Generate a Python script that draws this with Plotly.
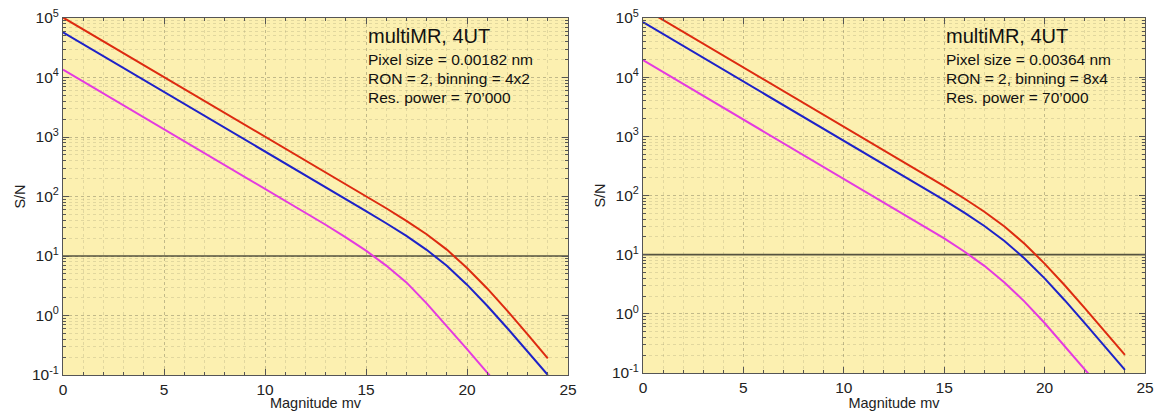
import plotly.graph_objects as go

# ---------------- data ----------------
mag = [0, 2, 4, 6, 8, 10, 11, 12, 13, 14, 15, 16, 17, 18, 19, 20, 21, 22, 23, 24]

# left panel: pixel size 0.00182 nm, binning 4x2
left_red = [1.02e5, 4.06e4, 1.62e4, 6430, 2560, 1020, 642, 406, 256, 161, 101, 63.5,
            39.0, 23.2, 12.8, 6.3, 2.85, 1.2, 0.48, 0.19]
left_blue = [5.74e4, 2.29e4, 9100, 3625, 1443, 574, 362, 229, 144, 90.7, 57.0, 35.5,
             21.8, 12.7, 6.85, 3.3, 1.46, 0.611, 0.249, 0.1]
left_magenta = [1.36e4, 5415, 2156, 858, 341, 136, 85.6, 53.7, 33.5, 20.6, 12.3, 6.9,
                3.6, 1.6, 0.67, 0.273, 0.110, 0.044, 0.0176, 0.0069]

# right panel: pixel size 0.00364 nm, binning 8x4
right_red = [1.47e5, 5.84e4, 2.32e4, 9250, 3684, 1466, 925, 583, 367, 231, 144, 88.9,
             53.1, 29.9, 15.3, 7.07, 3.04, 1.25, 0.505, 0.202]
right_blue = [8.49e4, 3.38e4, 1.345e4, 5354, 2131, 848, 535, 337, 213, 134, 83.4, 51.3,
              30.5, 17.0, 8.64, 3.97, 1.70, 0.697, 0.281, 0.1125]
right_magenta = [1.94e4, 7709, 3069, 1222, 486, 194, 122, 76.9, 48.4, 30.3, 18.8, 11.3,
                 6.47, 3.39, 1.61, 0.70, 0.29, 0.1175, 0.047, 0.0188]

threshold_x = [0, 25]
threshold_y = [10, 10]

y_exponents = [-1, 0, 1, 2, 3, 4, 5]
x_ticks = [0, 5, 10, 15, 20, 25]

series_colors = {"red": "#DD2A10", "blue": "#1E22C8", "magenta": "#E43AE0"}

left_text = ["multiMR, 4UT", "Pixel size = 0.00182 nm", "RON = 2, binning = 4x2",
             "Res. power = 70\u2019000"]
right_text = ["multiMR, 4UT", "Pixel size = 0.00364 nm", "RON = 2, binning = 8x4",
              "Res. power = 70\u2019000"]

# ---------------- figure ----------------
W, H = 1160, 411
FONT = "Liberation Sans, Arial, Helvetica, sans-serif"


def px_x(p):
    return p / W


def px_y(p):
    return 1 - p / H


fig = go.Figure()

panels = [
    ("x", "y", left_red, left_blue, left_magenta),
    ("x2", "y2", right_red, right_blue, right_magenta),
]
for xa, ya, r, b, m in panels:
    fig.add_trace(go.Scatter(x=threshold_x, y=threshold_y, mode="lines",
                             line=dict(color="#55533F", width=1.6),
                             xaxis=xa, yaxis=ya, showlegend=False, hoverinfo="skip"))
    for ys, c in ((m, "magenta"), (b, "blue"), (r, "red")):
        fig.add_trace(go.Scatter(x=mag, y=ys, mode="lines",
                                 line=dict(color=series_colors[c], width=2),
                                 xaxis=xa, yaxis=ya, showlegend=False, cliponaxis=True))

grid_major = "rgba(120,115,90,0.30)"
grid_minor = "rgba(120,115,90,0.20)"
axis_col = "#555555"


def xaxis(domain, anchor):
    return dict(domain=domain, anchor=anchor, range=[0, 25], automargin=False,
                tickmode="array", tickvals=x_ticks, ticktext=[str(v) for v in x_ticks],
                ticklabeloverflow="allow",
                showline=True, mirror="ticks", linecolor=axis_col, linewidth=1,
                ticks="inside", ticklen=6, tickcolor=axis_col,
                showgrid=True, gridcolor=grid_major, griddash="dot", gridwidth=1,
                minor=dict(dtick=1, ticks="inside", ticklen=3, tickcolor=axis_col,
                           showgrid=True, gridcolor=grid_minor, griddash="dot", gridwidth=1),
                zeroline=False, tickfont=dict(family=FONT, size=15.5, color="#222"),
                title=dict(text="Magnitude mv", font=dict(family=FONT, size=14.5, color="#222"),
                           standoff=0))


def yaxis(domain, anchor):
    return dict(domain=domain, anchor=anchor, type="log", range=[-1, 5], automargin=False,
                tickmode="array", tickvals=[10.0 ** e for e in y_exponents],
                ticktext=["10<sup>%d</sup>" % e for e in y_exponents],
                ticklabeloverflow="allow",
                showline=True, mirror="ticks", linecolor=axis_col, linewidth=1,
                ticks="inside", ticklen=6, tickcolor=axis_col,
                showgrid=True, gridcolor=grid_major, griddash="dot", gridwidth=1,
                minor=dict(dtick="D1", ticks="inside", ticklen=3, tickcolor=axis_col,
                           showgrid=True, gridcolor=grid_minor, griddash="dot", gridwidth=1),
                zeroline=False, tickfont=dict(family=FONT, size=15.5, color="#222"),
                title=dict(text="S/N", font=dict(family=FONT, size=14.5, color="#222"),
                           standoff=2))


fig.update_layout(
    width=W, height=H, margin=dict(l=0, r=0, t=0, b=0),
    paper_bgcolor="white", plot_bgcolor="#FCF0B0",
    xaxis=xaxis([px_x(63), px_x(568)], "y"),
    yaxis=yaxis([px_y(375), px_y(18)], "x"),
    xaxis2=xaxis([px_x(643), px_x(1145)], "y2"),
    yaxis2=yaxis([px_y(373), px_y(18)], "x2"),
    showlegend=False,
)

line_y = [36.5, 59.5, 78.0, 97.5]
sizes = [20, 15.5, 15.5, 15.5]
for texts, x0 in ((left_text, 366), (right_text, 944)):
    for t, yy, s in zip(texts, line_y, sizes):
        fig.add_annotation(text=t, xref="paper", yref="paper", x=px_x(x0), y=px_y(yy),
                           xanchor="left", yanchor="middle", showarrow=False,
                           font=dict(family=FONT, size=s, color="#111"))

# remove the default page margin so the figure fills the window exactly
fig.write_html("out.html", config={"displayModeBar": False},
               post_script="document.body.style.margin='0px';document.body.style.padding='0px';")
